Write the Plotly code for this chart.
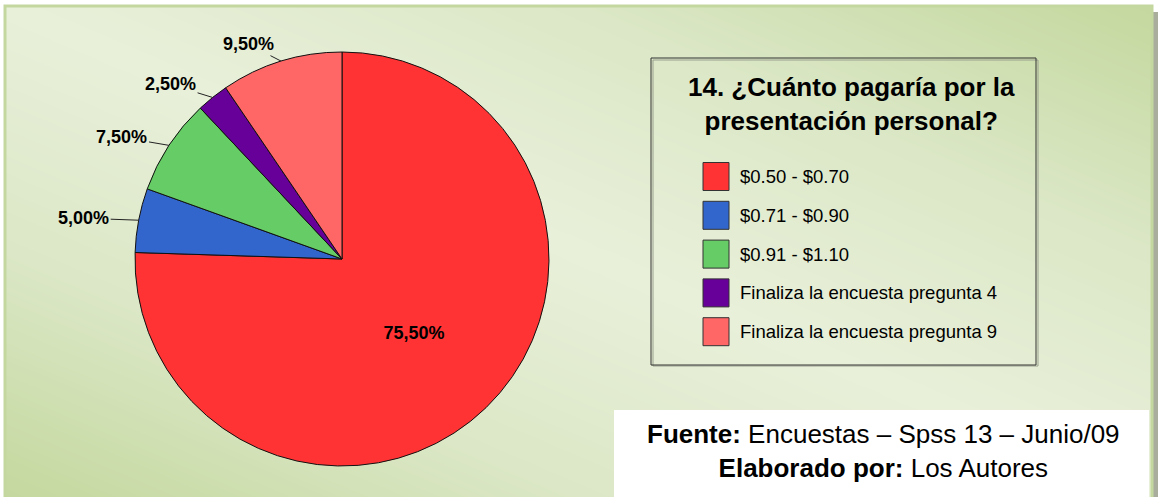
import numpy as np
import plotly.graph_objects as go

W, H = 1158, 497

# ---- data ----
categories = ["$0.50 - $0.70", "$0.71 - $0.90", "$0.91 - $1.10",
              "Finaliza la encuesta pregunta 4", "Finaliza la encuesta pregunta 9"]
percent_values = [75.5, 5.0, 7.5, 2.5, 9.5]
slice_colors = ["#ff3333", "#3366cc", "#66cc66", "#660099", "#ff6666"]
title_lines = ["14. ¿Cuánto pagaría por la", "presentación personal?"]
source_line = "<b>Fuente:</b> Encuestas – Spss 13 – Junio/09"
author_line = "<b>Elaborado por:</b> Los Autores"

# ---- layout constants (pixels) ----
FONT = "Arial, 'Liberation Sans', sans-serif"
cx, cy, R = 342, 259, 207          # pie centre / radius
label_offsets = [None, (-55, -2), (-47, -8), (-42, -13), (-33, -17)]


def px(x):
    return x / W


def py(y):
    return 1 - y / H


def fmt(v):
    return f"{v:.2f}".replace(".", ",") + "%"


texts = [fmt(v) for v in percent_values]

fig = go.Figure()

# background gradient (diagonal: light along TL-BR diagonal, greener towards TR/BL)
gx = np.linspace(0, 1, 60)
gy = np.linspace(0, 1, 30)
U, V = np.meshgrid(gx, gy)
Z = np.abs(U - (1 - V))  # V measured from bottom
fig.add_trace(go.Heatmap(
    x=gx, y=gy, z=Z, zsmooth="best", showscale=False, hoverinfo="skip",
    colorscale=[[0, "#e9f0da"], [0.5, "#dbe7c6"], [1, "#c4d89e"]],
    xaxis="x", yaxis="y"))

# pie
fig.add_trace(go.Pie(
    labels=categories, values=percent_values, sort=False, direction="clockwise",
    rotation=0, marker=dict(colors=slice_colors, line=dict(color="#111111", width=1)),
    text=texts, textinfo="text",
    textposition=["inside", "none", "none", "none", "none"],
    insidetextorientation="horizontal",
    insidetextfont=dict(family=FONT, size=18, color="black", weight="bold"),
    domain=dict(x=[px(cx - R), px(cx + R)], y=[py(cy + R), py(cy - R)]),
    showlegend=False, hoverinfo="label+percent"))

annotations = []
# outside labels with leader lines, positioned from slice mid-angles
cum = 0
total = sum(percent_values)
for v, t, off in zip(percent_values, texts, label_offsets):
    mid = (cum + v / 2) / total * 2 * np.pi
    cum += v
    if off is None:
        continue
    rx = cx + R * np.sin(mid)
    ry = cy - R * np.cos(mid)
    annotations.append(dict(
        x=px(rx), y=py(ry), xref="paper", yref="paper", text=f"<b>{t}</b>",
        showarrow=True, arrowhead=0, arrowwidth=1, arrowcolor="#222",
        ax=off[0], ay=off[1], standoff=0,
        font=dict(family=FONT, size=18, color="black")))

shapes = [
    # panel shadow + border
    dict(type="rect", xref="paper", yref="paper", x0=px(1152), x1=px(1158), y0=0, y1=py(12),
         fillcolor="#a9ae9c", line_width=0, layer="below"),
    dict(type="rect", xref="paper", yref="paper", x0=px(5), x1=px(1152), y0=py(500), y1=py(6),
         fillcolor="rgba(0,0,0,0)", line=dict(color="#c3d79f", width=3), layer="above"),
    # legend box (with light shadow)
    dict(type="rect", xref="paper", yref="paper", x0=px(653), x1=px(1038), y0=py(366), y1=py(60),
         fillcolor="rgba(0,0,0,0)", line=dict(color="#9aa08f", width=1)),
    dict(type="rect", xref="paper", yref="paper", x0=px(651), x1=px(1036), y0=py(365), y1=py(58),
         fillcolor="rgba(0,0,0,0)", line=dict(color="#333333", width=1)),
    # source box
    dict(type="rect", xref="paper", yref="paper", x0=px(614), x1=px(1149), y0=0, y1=py(410),
         fillcolor="white", line_width=0),
]

annotations.append(dict(
    x=px(852), y=py(104), xref="paper", yref="paper", xanchor="center", yanchor="middle",
    text="<b>" + "<br>".join(title_lines) + "</b>", showarrow=False, align="center",
    font=dict(family=FONT, size=26, color="black")))

item_y0, item_step = 176.5, 38.8
for i, (cat, col) in enumerate(zip(categories, slice_colors)):
    yc = item_y0 + i * item_step
    shapes.append(dict(type="rect", xref="paper", yref="paper",
                       x0=px(703), x1=px(729), y0=py(yc + 14), y1=py(yc - 14),
                       fillcolor=col, line=dict(color="#333333", width=1)))
    annotations.append(dict(x=px(738), y=py(yc), xref="paper", yref="paper",
                            xanchor="left", yanchor="middle", text=cat, showarrow=False,
                            font=dict(family=FONT, size=18.5, color="black")))

annotations.append(dict(
    x=px(883), y=py(451), xref="paper", yref="paper", xanchor="center", yanchor="middle",
    text=source_line + "<br>" + author_line, showarrow=False, align="center",
    font=dict(family=FONT, size=26, color="black")))

fig.update_layout(
    width=W, height=H, margin=dict(l=0, r=0, t=0, b=0),
    paper_bgcolor="white", plot_bgcolor="white",
    xaxis=dict(domain=[px(5), px(1152)], range=[0, 1], visible=False, fixedrange=True),
    yaxis=dict(domain=[0, py(6)], range=[0, 1], visible=False, fixedrange=True),
    shapes=shapes, annotations=annotations, showlegend=False,
    font=dict(family=FONT),
)

fig.write_html("out.html", config={"displayModeBar": False},
               post_script="document.body.style.margin='0';document.body.style.overflow='hidden';")
